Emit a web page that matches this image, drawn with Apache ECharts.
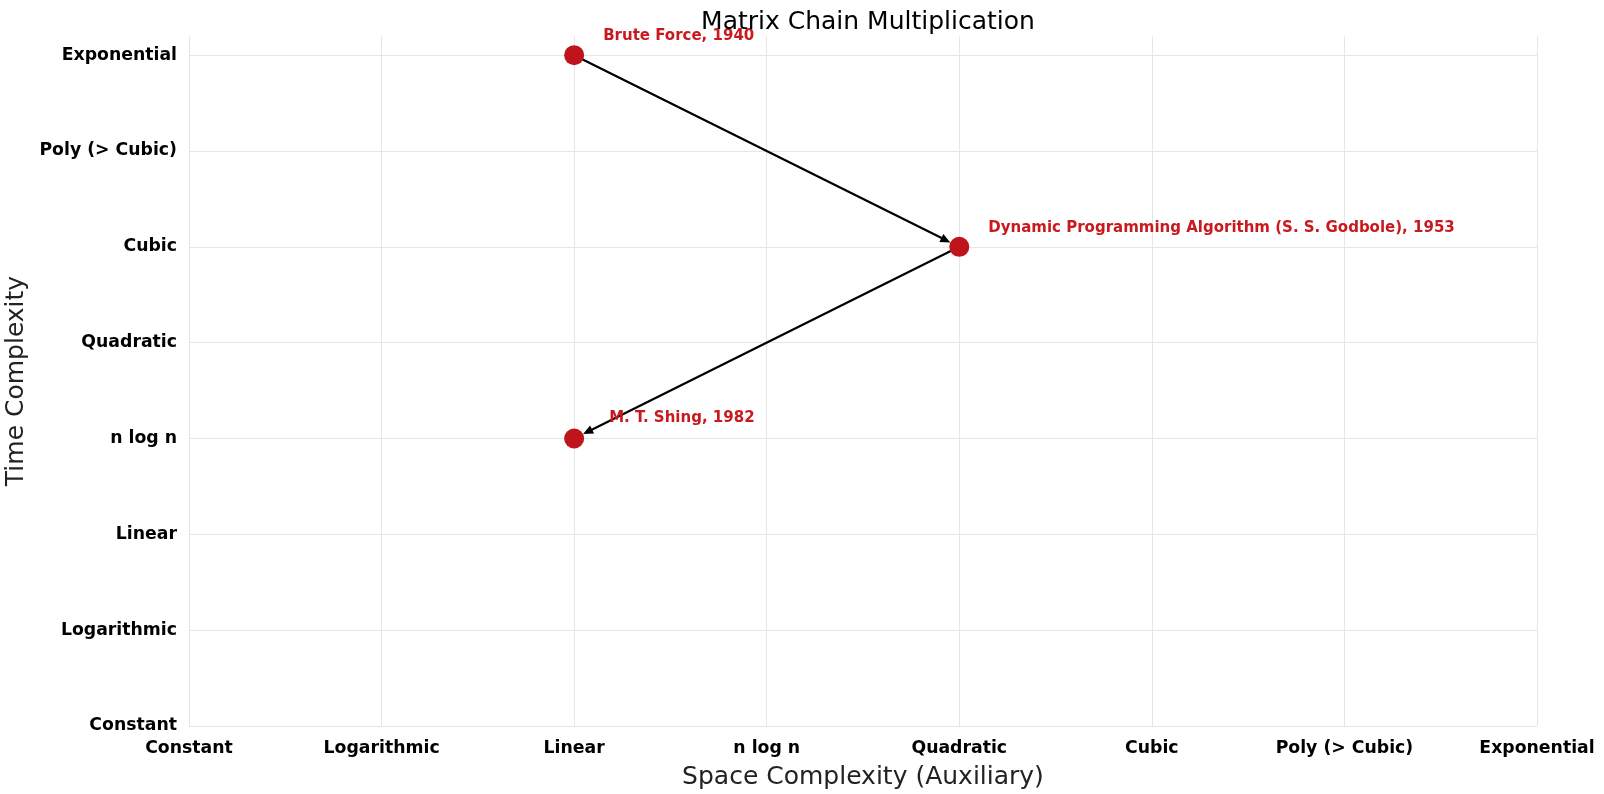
<!DOCTYPE html>
<html>
<head>
<meta charset="utf-8">
<script src="https://cdn.jsdelivr.net/npm/echarts@6/dist/echarts.min.js"></script>
<style>html,body{margin:0;padding:0;background:#fff;}#c{width:1604px;height:794px;}</style>
</head>
<body>
<div id="c"></div>
<script>
const complexityLabels = ['Constant','Logarithmic','Linear','n log n','Quadratic','Cubic','Poly (> Cubic)','Exponential'];
const algorithmNames = ['Brute Force, 1940','Dynamic Programming Algorithm (S. S. Godbole), 1953','M. T. Shing, 1982'];
const spaceValues = [2, 4, 2];
const timeValues = [7, 5, 3];
const arrowFrom = [0, 1];
const arrowTo = [1, 2];

const FONT = 'DejaVu Sans';
const RED = '#c0141c';
const GRID_L = 189, GRID_R = 67;

const pointData = algorithmNames.map((n, i) => ({
  name: n, value: [spaceValues[i], timeValues[i]],
  label: i === 2 ? { distance: 25, offset: [0, -20] } : undefined
}));
const arrowData = arrowFrom.map((f, i) => [spaceValues[f], timeValues[f], spaceValues[arrowTo[i]], timeValues[arrowTo[i]]]);

const chart = echarts.init(document.getElementById('c'));
chart.setOption({
  backgroundColor: '#fff',
  animation: false,
  title: {
    text: 'Matrix Chain Multiplication',
    left: (GRID_L + 1604 - GRID_R) / 2, textAlign: 'center', top: 5,
    textStyle: { fontFamily: FONT, fontWeight: 'normal', fontSize: 25, color: '#000' }
  },
  grid: { left: GRID_L, right: GRID_R, top: 36, bottom: 68, containLabel: false, outerBoundsMode: 'none' },
  xAxis: {
    type: 'value', min: 0, max: 7, interval: 1,
    name: 'Space Complexity (Auxiliary)', nameLocation: 'middle', nameGap: 39,
    nameTextStyle: { fontFamily: FONT, fontSize: 25, color: '#222' },
    axisLine: { show: false }, axisTick: { show: false },
    axisLabel: { fontFamily: FONT, fontWeight: 'bold', fontSize: 17.3, color: '#000', margin: 14,
      formatter: v => complexityLabels[v] || '' },
    splitLine: { show: true, lineStyle: { color: '#e6e6e6', width: 1 } }
  },
  yAxis: {
    type: 'value', min: 0, max: 7.2, interval: 1,
    name: 'Time Complexity', nameLocation: 'middle', nameGap: 142, nameRotate: 90,
    nameTextStyle: { fontFamily: FONT, fontSize: 25, color: '#222' },
    axisLine: { show: false }, axisTick: { show: false },
    axisLabel: { fontFamily: FONT, fontWeight: 'bold', fontSize: 17.3, color: '#000', margin: 12,
      formatter: v => (Number.isInteger(v) ? complexityLabels[v] : '') },
    splitLine: { show: true, showMaxLine: false, lineStyle: { color: '#e6e6e6', width: 1 } }
  },
  series: [
    {
      type: 'custom',
      coordinateSystem: 'cartesian2d',
      data: arrowData,
      z: 3,
      renderItem: function (params, api) {
        const p0 = api.coord([api.value(0), api.value(1)]);
        const p1 = api.coord([api.value(2), api.value(3)]);
        const dx = p1[0] - p0[0], dy = p1[1] - p0[1];
        const len = Math.sqrt(dx * dx + dy * dy);
        const ux = dx / len, uy = dy / len;
        const shrinkA = 0, shrinkB = 10, head = 10, hw = 4.5;
        const s = [p0[0] + ux * shrinkA, p0[1] + uy * shrinkA];
        const tip = [p1[0] - ux * shrinkB, p1[1] - uy * shrinkB];
        const base = [tip[0] - ux * head, tip[1] - uy * head];
        const px = -uy, py = ux;
        return {
          type: 'group',
          children: [
            { type: 'line', shape: { x1: s[0], y1: s[1], x2: base[0] + ux * 2, y2: base[1] + uy * 2 },
              style: { stroke: '#000', lineWidth: 2.2 } },
            { type: 'polygon', shape: { points: [tip, [base[0] + px * hw, base[1] + py * hw], [base[0] - px * hw, base[1] - py * hw]] },
              style: { fill: '#000' } }
          ]
        };
      }
    },
    {
      type: 'scatter',
      data: pointData,
      symbol: 'circle',
      symbolSize: 20,
      z: 4,
      itemStyle: { color: RED, opacity: 1 },
      label: {
        show: true, position: 'right', distance: 19, offset: [0, -19],
        formatter: p => p.name,
        fontFamily: FONT, fontWeight: 'bold', fontSize: 15, color: '#c81a1e'
      }
    }
  ]
});
</script>
</body>
</html>
